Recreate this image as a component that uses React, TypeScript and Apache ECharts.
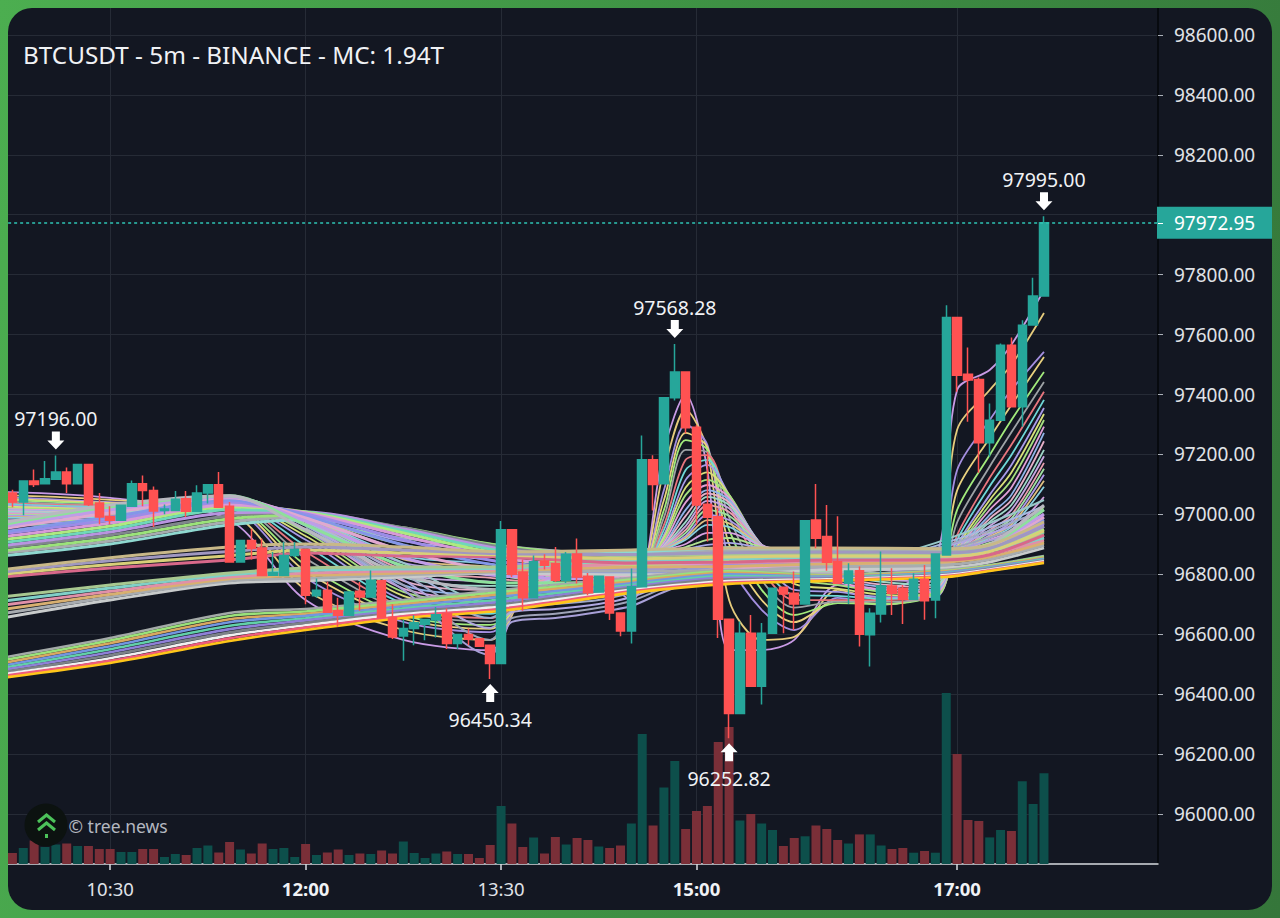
import React, { useEffect, useRef } from "react";
import * as echarts from "echarts";

const times = [
  "09:40",
  "09:45","09:50","09:55","10:00","10:05","10:10","10:15","10:20","10:25","10:30","10:35","10:40","10:45","10:50","10:55","11:00","11:05","11:10",
  "11:15","11:20","11:25","11:30","11:35","11:40","11:45","11:50","11:55","12:00","12:05","12:10","12:15","12:20","12:25","12:30","12:35","12:40",
  "12:45","12:50","12:55","13:00","13:05","13:10","13:15","13:20","13:25","13:30","13:35","13:40","13:45","13:50","13:55","14:00","14:05","14:10",
  "14:15","14:20","14:25","14:30","14:35","14:40","14:45","14:50","14:55","15:00","15:05","15:10","15:15","15:20","15:25","15:30","15:35","15:40",
  "15:45","15:50","15:55","16:00","16:05","16:10","16:15","16:20","16:25","16:30","16:35","16:40","16:45","16:50","16:55","17:00","17:05","17:10",
  "17:15","17:20","17:25","17:30","17:35","17:40","17:45","17:50","17:55","18:00","18:05","18:10","18:15","18:20","18:25","18:30",
];
const labelTicks = ["10:30", "12:00", "13:30", "15:00", "17:00"];
const boldTicks = ["12:00", "15:00", "17:00"];
const priceTicks = [96000,96200,96400,96600,96800,97000,97200,97400,97600,97800,98000,98200,98400,98600];
const priceLabels = [96000,96200,96400,96600,96800,97000,97200,97400,97600,97800,98200,98400,98600];
const lastPrice = 97972.95;

const opens = [97071,97041,97111,97102,97117,97141,97102,97166,97038,96993,96980,97027,97102,97080,97013,97013,97052,97010,97071,97099,97027,96841,96913,96888,96797,96796,96863,96883,96728,96747,96678,96663,96743,96724,96778,96656,96594,96619,96633,96647,96669,96569,96599,96585,96563,96502,96949,96808,96722,96844,96836,96780,96868,96793,96741,96791,96671,96611,96758,97182,97102,97389,97475,97291,97034,96992,96650,96335,96603,96426,96603,96757,96737,96701,96981,96926,96842,96770,96812,96598,96667,96761,96753,96717,96783,96714,96864,97657,97468,97450,97239,97314,97564,97359,97632,97729];
const closes = [97041,97111,97100,97119,97141,97102,97166,97033,96991,96980,97030,97102,97080,97011,97018,97050,97010,97071,97099,97024,96841,96913,96886,96796,96806,96863,96883,96730,96747,96673,96663,96741,96724,96780,96656,96591,96619,96638,96649,96665,96569,96599,96583,96560,96502,96949,96800,96722,96842,96830,96780,96867,96791,96738,96793,96671,96611,96758,97182,97100,97389,97475,97289,97031,96990,96650,96335,96603,96426,96603,96753,96734,96701,96979,96920,96840,96770,96811,96600,96670,96761,96737,96717,96783,96712,96868,97657,97464,97448,97239,97314,97564,97359,97631,97729,97972.95];
const lows = [97024,96997,97091,97102,97117,97071,97102,97028,96967,96967,96980,97027,97027,96958,97000,97013,96991,97010,97036,97024,96841,96841,96849,96796,96797,96796,96858,96700,96722,96673,96625,96663,96678,96724,96656,96584,96511,96563,96580,96589,96551,96551,96563,96560,96450.34,96502,96791,96678,96722,96816,96774,96771,96769,96730,96741,96647,96593,96569,96758,97013,97102,97380,97270,96965,96909,96587,96252.82,96335,96426,96365,96603,96603,96614,96701,96887,96812,96770,96701,96559,96492,96639,96664,96634,96717,96648,96653,96864,97409,97309,97139,97192,97314,97359,97292,97632,97729];
const highs = [97082,97111,97150,97178,97196,97156,97166,97166,97071,97027,97030,97113,97130,97093,97033,97078,97078,97097,97099,97141,97041,96913,96952,96919,96874,96908,96908,96883,96786,96775,96722,96741,96774,96813,96780,96700,96647,96663,96649,96691,96686,96599,96619,96585,96563,96978,96949,96849,96863,96867,96891,96874,96919,96804,96796,96791,96671,96819,97263,97197,97389,97568.28,97478,97298,97209,97020,96650,96642,96664,96637,96753,96757,96809,96979,97101,97031,96994,96837,96826,96687,96876,96820,96764,96803,96831,96868,97698,97657,97557,97457,97370,97570,97590,97648,97790,97995];
const volumes = [11,16,23.5,17,19.5,20.5,18,18,15,15,12,12,15,15,7,10,9,16,18.5,11.5,22,14.5,10.5,20.5,15,16,7,20,9,11.5,14.5,9,10.5,10,13.5,10.5,22.5,11,6,10.5,12.5,10,10,6,19,58,40.5,17,26.5,10.5,27,19.5,26,24,17.5,16,18.5,40.5,130,38.5,76.5,103,35,53,58,122,137,43.5,50,40.5,34,18,26,27.7,38.5,35,24,20.5,29.6,29.6,18.5,15,16,11.3,13,11.3,171,110,44,43,26.6,34,33,82.7,60,90.7];

const fastIndex = [-1,9,20,27,36,44,48,53,57,60,62,64,66,69,72,76,80,85,87,90,92,95];
const fastLines = [
  [97075,97055,96981,96714,96581,96547,96798,96798,96714,97215,97399,97148,96547,96547,96581,96764,96748,96848,97415,97482,97566,97749],
  [97065,97048,97008,96748,96614,96581,96781,96815,96724,97148,97349,97215,96714,96581,96591,96748,96714,96798,97282,97415,97499,97672],
  [97058,97041,97021,96788,96641,96607,96764,96825,96731,97081,97299,97232,96848,96681,96614,96721,96698,96764,97148,97315,97415,97542],
  [97052,97038,97025,96810,96652,96618,96756,96826,96736,97048,97272,97224,96900,96714,96640,96712,96700,96752,97080,97255,97365,97525],
  [97048,97035,97028,96831,96664,96631,96748,96828,96741,97015,97248,97215,96948,96748,96664,96704,96701,96741,97015,97198,97315,97475],
  [97043,97031,97032,96853,96678,96642,96745,96830,96748,96990,97215,97207,96990,96781,96689,96709,96708,96736,96973,97160,97274,97442],
  [97038,97028,97035,96875,96691,96654,96741,96831,96754,96965,97182,97198,97031,96815,96714,96714,96714,96731,96931,97122,97232,97409],
  [97035,97025,97036,96895,96702,96668,96741,96833,96759,96948,97148,97182,97048,96840,96731,96728,96719,96728,96915,97094,97198,97382],
  [97031,97021,97038,96915,96714,96681,96741,96835,96764,96931,97115,97165,97065,96865,96748,96741,96724,96724,96898,97065,97165,97355],
  [97026,97018,97040,96928,96728,96695,96745,96836,96772,96923,97090,97140,97065,96876,96768,96752,96732,96728,96890,97048,97140,97335],
  [97021,97015,97041,96941,96741,96708,96748,96838,96781,96915,97065,97115,97065,96888,96788,96764,96741,96731,96881,97031,97115,97315],
  [97018,97011,97041,96951,96752,96721,96751,96840,96788,96906,97040,97098,97056,96893,96801,96772,96750,96740,96878,97015,97090,97293],
  [97015,97008,97041,96961,96764,96734,96754,96841,96794,96898,97015,97081,97048,96898,96815,96781,96758,96748,96875,96998,97065,97272],
  [97011,97006,97040,96968,96778,96748,96759,96843,96801,96895,96995,97070,97040,96898,96823,96790,96766,96756,96873,96986,97048,97244],
  [97008,97005,97038,96975,96791,96761,96764,96845,96808,96891,96975,97058,97031,96898,96831,96798,96775,96764,96871,96975,97031,97215],
  [97004,97001,97038,96978,96803,96775,96770,96846,96815,96890,96961,97045,97020,96898,96840,96806,96783,96776,96870,96961,97015,97194],
  [97001,96998,97038,96981,96815,96788,96775,96848,96821,96888,96948,97031,97008,96898,96848,96815,96791,96788,96868,96948,96998,97172],
  [96998,96996,97036,96985,96826,96801,96781,96851,96826,96886,96938,97015,96995,96898,96855,96823,96803,96798,96868,96940,96986,97152],
  [96995,96995,97035,96988,96838,96815,96788,96855,96831,96885,96928,96998,96981,96898,96861,96831,96815,96808,96868,96931,96975,97132],
  [96991,96993,97033,96988,96850,96825,96796,96858,96836,96883,96921,96981,96970,96896,96866,96836,96823,96815,96868,96926,96966,97112],
  [96988,96991,97031,96988,96861,96835,96804,96861,96841,96881,96915,96965,96958,96895,96871,96841,96831,96821,96868,96921,96958,97092],
  [96981,96985,97031,96991,96881,96848,96821,96865,96851,96881,96901,96938,96938,96895,96875,96848,96841,96831,96868,96915,96945,97058],
  [96978,96981,97028,96988,96898,96865,96838,96868,96861,96878,96891,96915,96921,96891,96878,96855,96848,96841,96871,96905,96931,97025],
  [96971,96978,97025,96988,96911,96878,96855,96871,96868,96878,96885,96898,96905,96888,96881,96861,96855,96855,96875,96898,96915,96988],
  [96965,96971,97018,96981,96921,96888,96871,96875,96875,96878,96881,96885,96891,96885,96885,96871,96871,96875,96878,96888,96898,96948],
];
const fastColors = ["#c99be6","#e6cc7c","#a48fe0","#e9d27f","#a2ea7c","#9ea3a6","#e8767e","#6fd8d8","#a89be8","#d9e07a","#a7e07f","#e2a0d8","#8fb5e8","#e6b0c8","#9fd8c8","#c6a6e0","#e8a0b0","#a0e0a0","#b09ae8","#e0c080","#88d0e0","#d8a0e0","#b0e090","#a8a8e8","#90d8b0"];

const slowIndex = [-1,9,20,27,36,45,57,66,75,86,90,95];
const bandA = [
  [96861,96901,96965,96981,96948,96891,96871,96885,96881,96878,96885,96898],
  [96871,96911,96975,96991,96951,96895,96865,96878,96878,96875,96885,96905],
  [96878,96921,96985,96998,96955,96895,96858,96871,96875,96871,96881,96911],
  [96888,96931,96995,97005,96955,96891,96851,96865,96868,96871,96881,96921],
  [96895,96941,97005,97008,96951,96885,96845,96858,96861,96868,96881,96931],
  [96905,96951,97015,97008,96945,96878,96838,96851,96855,96865,96881,96941],
  [96915,96961,97025,97008,96938,96868,96828,96845,96848,96861,96885,96951],
  [96925,96971,97031,97005,96928,96855,96821,96838,96845,96861,96885,96961],
  [96935,96981,97041,97001,96915,96841,96815,96831,96838,96858,96888,96971],
  [96941,96991,97048,96995,96898,96828,96804,96825,96831,96855,96888,96981],
  [96951,97005,97055,96988,96878,96811,96794,96818,96825,96848,96891,96991],
  [96958,97015,97058,96978,96855,96794,96784,96811,96818,96845,96895,97001],
  [96965,97025,97062,96965,96828,96771,96775,96804,96811,96841,96895,97015],
  [96971,97031,97062,96948,96798,96748,96764,96798,96804,96838,96898,97031],
];
const bandAColors = ["#8fd8d0","#a8acb0","#9be27a","#80868c","#b894e0","#6fd8b8","#aeea80","#d89ad8","#9c8ce8","#8496e8","#e0a8d0","#c09ce8","#8ee09c","#b8b8c0"];

const dipIndex = [27,36,44,46,50,54,57,60,66,80,95];
const bandDip = [
  [96948,96748,96531,96641,96654,96674,96694,96741,96815,96831,96965],
  [96955,96764,96581,96654,96668,96688,96711,96754,96825,96838,96981],
  [96965,96781,96621,96674,96684,96701,96724,96764,96831,96845,96998],
  [96968,96801,96654,96694,96701,96714,96738,96775,96838,96848,97015],
  [96975,96821,96681,96714,96721,96731,96751,96784,96845,96855,97028],
  [96981,96838,96704,96734,96741,96748,96761,96794,96848,96861,97048],
];
const bandDipColors = ["#a8a0d8","#9ea3b8","#b0a8e0","#a0a8c8","#a8b8e0","#98c8c8"];

const bandC = [
  [96654,96714,96771,96778,96791,96804,96798,96798,96815,96821,96841,96888],
  [96668,96724,96778,96787,96798,96808,96811,96812,96825,96831,96850,96897],
  [96682,96733,96785,96796,96804,96812,96824,96826,96835,96841,96858,96905],
  [96696,96743,96791,96804,96811,96816,96836,96839,96845,96851,96867,96914],
  [96710,96754,96798,96813,96818,96820,96849,96852,96855,96861,96878,96922],
  [96724,96764,96804,96821,96824,96824,96861,96865,96865,96871,96888,96931],
];
const bandCColors = ["#c8cbcb","#a8acb0","#d8b070","#e090a8","#7fd0c8","#a8c890"];

const bandB = [
  [96791,96821,96848,96871,96861,96858,96838,96841,96848,96848,96865,96931],
  [96800,96833,96862,96881,96871,96864,96852,96858,96861,96860,96876,96945],
  [96807,96845,96876,96891,96881,96869,96866,96872,96875,96872,96887,96960],
  [96815,96855,96891,96901,96891,96875,96881,96888,96888,96885,96898,96975],
];
const bandBColors = ["#d8688a","#d8cf78","#a098c0","#c8b888"];

const bandD = [
  [96454,96504,96577,96614,96654,96678,96738,96768,96778,96791,96811,96838],
  [96460,96511,96586,96622,96660,96685,96743,96772,96780,96794,96813,96840],
  [96466,96520,96596,96630,96667,96692,96748,96777,96783,96797,96816,96843],
  [96473,96530,96606,96638,96673,96700,96754,96783,96785,96799,96818,96845],
  [96480,96540,96617,96646,96680,96708,96759,96788,96788,96802,96820,96847],
  [96487,96550,96628,96653,96686,96716,96764,96794,96790,96804,96822,96849],
  [96494,96560,96640,96661,96693,96725,96770,96800,96792,96807,96824,96852],
  [96503,96570,96650,96668,96700,96733,96776,96805,96794,96810,96826,96855],
  [96512,96579,96661,96676,96707,96741,96782,96810,96796,96812,96829,96858],
  [96521,96587,96671,96684,96714,96748,96788,96815,96798,96815,96831,96861],
];
const bandDColors = ["#ffc61a","#ef5b7a","#f0f0f0","#7c8288","#8f80d8","#62d0a8","#7396e0","#d8a860","#9ae27a","#a4aaa8"];

const extremes = [
  { index: 4, price: 97196, side: "high" },
  { index: 44, price: 96450.34, side: "low" },
  { index: 61, price: 97568.28, side: "high" },
  { index: 66, price: 96252.82, side: "low" },
  { index: 95, price: 97995, side: "high" },
];

const LEAD = 1;
const SHIFT = 10;
const UP = "#26a69a";
const DOWN = "#ff5252";
const ARROW_DOWN = "path://M4.5 0H12.5V9H17L8.5 18L0 9H4.5Z";
const ARROW_UP = "path://M8.5 0L17 9H12.5V18H4.5V9H0Z";
const FONT = '"Noto Sans", sans-serif';

function lineSeries(name: string, idx: number[], rows: number[][], colors: string[], width: number, z: number) {
  return rows.map((row, k) => ({
    name: `${name}${k}`,
    type: "line",
    xAxisIndex: 0,
    yAxisIndex: 0,
    data: row.map((v, j) => [idx[j] + LEAD, v]),
    showSymbol: false,
    symbol: "none",
    smooth: 0.3,
    silent: true,
    z,
    lineStyle: { color: colors[k % colors.length], width },
  }));
}

export default function App() {
  const ref = useRef<HTMLDivElement>(null);
  useEffect(() => {
    document.body.style.margin = "0";
    const chart = echarts.init(ref.current!, undefined, { renderer: "svg" });
    const tickFilter = (_: number, v: string) => labelTicks.includes(v);
    chart.setOption({
      animation: false,
      backgroundColor: "transparent",
      textStyle: { fontFamily: FONT },
      title: {
        text: "BTCUSDT - 5m - BINANCE - MC: 1.94T",
        left: 18 + SHIFT,
        top: 37,
        textStyle: { color: "#f0f2f5", fontSize: 24.3, fontWeight: "normal", fontFamily: FONT },
      },
      grid: { left: SHIFT - 3.86, top: 8, width: 1161.86, height: 856 },
      xAxis: {
        type: "category",
        data: times,
        boundaryGap: true,
        axisLine: { show: true, onZero: false, lineStyle: { color: "#d8dbe0", width: 1.5 } },
        axisTick: { show: true, alignWithLabel: true, interval: tickFilter, length: 6, lineStyle: { color: "#d8dbe0", width: 1.5 } },
        splitLine: { show: true, alignWithLabel: true, interval: tickFilter, lineStyle: { color: "#262b36", width: 1 } },
        axisLabel: {
          interval: tickFilter,
          margin: 15,
          color: "#e0e3e8",
          fontSize: 18.5,
          fontFamily: FONT,
          formatter: (v: string) => (boldTicks.includes(v) ? `{b|${v}}` : v),
          rich: { b: { fontWeight: 700, fontSize: 18.5, color: "#f0f2f5", fontFamily: FONT } },
        },
      },
      yAxis: [
        {
          type: "value",
          position: "right",
          min: 95833,
          max: 98690,
          axisLine: { show: true, onZero: false, lineStyle: { color: "#05070a", width: 1.5 } },
          axisTick: { show: true, length: 5, customValues: priceTicks, lineStyle: { color: "#aab0b8" } },
          splitLine: { show: true, lineStyle: { color: "#262b36", width: 1 } },
          axisLabel: { customValues: priceLabels, margin: 16, padding: [2, 0, 0, 0], color: "#e0e3e8", fontSize: 19, fontFamily: FONT, formatter: (v: number) => v.toFixed(2) },
        },
        { type: "value", min: 0, max: 856, show: false, splitLine: { show: false } },
        {
          type: "value",
          position: "right",
          min: 95833,
          max: 98690,
          z: 20,
          axisLine: { show: false },
          splitLine: { show: false },
          axisLabel: { show: false },
          axisTick: { show: true, length: 5, customValues: [lastPrice], lineStyle: { color: "#ffffff" } },
        },
      ],
      graphic: [
        {
          type: "group",
          x: SHIFT,
          y: 0,
          z: 30,
          children: [
            { type: "circle", z: 30, shape: { cx: 46, cy: 825, r: 21.5 }, style: { fill: "#0c1210" } },
            { type: "polyline", z: 31, shape: { points: [[38, 822], [46.5, 815], [55, 822]] }, style: { stroke: "#4cc25a", lineWidth: 3, fill: "none" } },
            { type: "polyline", z: 31, shape: { points: [[38, 830], [46.5, 823], [55, 830]] }, style: { stroke: "#4cc25a", lineWidth: 3, fill: "none" } },
            { type: "rect", z: 31, shape: { x: 45, y: 834, width: 3, height: 4 }, style: { fill: "#4cc25a" } },
            { type: "text", z: 31, x: 68.5, y: 817, style: { text: "© tree.news", fill: "#b4b8c0", fontSize: 17.5, fontFamily: FONT } },
          ],
        },
      ],
      series: [
        {
          name: "volume",
          type: "bar",
          xAxisIndex: 0,
          yAxisIndex: 1,
          barWidth: 9,
          silent: true,
          z: 1,
          data: ["-" as any, ...volumes.map((v, i) => ({ value: v, itemStyle: { color: closes[i] >= opens[i] ? "#0d4f4b" : "#7a2f38" } }))],
        },
        ...lineSeries("fast", fastIndex, fastLines, fastColors, 1.8, 3),
        ...lineSeries("dip", dipIndex, bandDip, bandDipColors, 2, 3),
        ...lineSeries("a", slowIndex, bandA, bandAColors, 3, 3),
        ...lineSeries("c", slowIndex, bandC, bandCColors, 3, 3),
        ...lineSeries("b", slowIndex, bandB, bandBColors, 3, 3),
        ...lineSeries("d", slowIndex, [...bandD].reverse(), [...bandDColors].reverse(), 2.6, 3),
        {
          name: "price",
          type: "candlestick",
          xAxisIndex: 0,
          yAxisIndex: 0,
          barWidth: 9,
          silent: true,
          z: 5,
          data: [["-", "-", "-", "-"], ...opens.map((o, i) => [o, closes[i], lows[i], highs[i]])],
          itemStyle: { color: UP, color0: DOWN, borderColor: UP, borderColor0: DOWN, borderWidth: 1.5 },
          markLine: {
            silent: true,
            symbol: "none",
            animation: false,
            z: 6,
            label: {
              show: true,
              position: "end",
              distance: -1,
              formatter: lastPrice.toFixed(2),
              color: "#ffffff",
              fontSize: 19,
              fontFamily: FONT,
              backgroundColor: UP,
              padding: [7, 18, 6, 17],
            },
            data: [{ yAxis: lastPrice, lineStyle: { color: "#2fc4b4", type: [3, 3], width: 1.5, opacity: 1 } }],
          },
          markPoint: {
            silent: true,
            animation: false,
            z: 7,
            data: extremes.map((e) => ({
              coord: [e.index + LEAD, e.price],
              value: e.price,
              symbol: e.side === "high" ? ARROW_DOWN : ARROW_UP,
              symbolSize: [17, 18],
              symbolOffset: [0, e.side === "high" ? -15 : 14],
              itemStyle: { color: "#ffffff" },
              label: {
                show: true,
                position: e.side === "high" ? "top" : "bottom",
                distance: e.side === "high" ? 3 : 7,
                color: "#f0f2f5",
                fontSize: 19.5,
                fontFamily: FONT,
                formatter: e.price.toFixed(2),
              },
            })),
          },
        },
      ],
    } as any);
    return () => chart.dispose();
  }, []);
  return (
    <div style={{ position: "relative", width: 1280, height: 918, overflow: "hidden", background: "linear-gradient(100deg, #4cae50 0%, #3f9445 45%, #35763a 100%)" }}>
      <div style={{ position: "absolute", left: 8, top: 8, width: 1264, height: 902, borderRadius: 24, overflow: "hidden", background: "#131722" }}>
        <div ref={ref} style={{ position: "absolute", left: -8 - SHIFT, top: -8, width: 1280 + SHIFT, height: 918 }} />
      </div>
    </div>
  );
}
